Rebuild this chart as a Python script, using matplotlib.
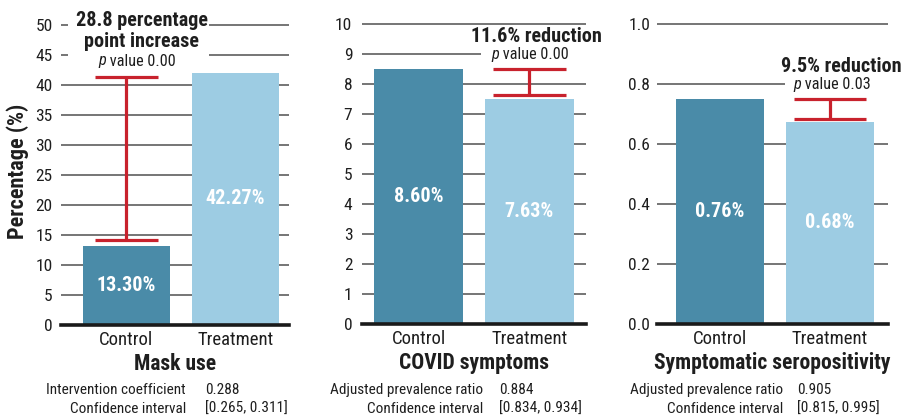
import matplotlib
matplotlib.use("Agg")
import matplotlib.pyplot as plt
from matplotlib.patches import Rectangle
from matplotlib import font_manager

available = {f.name for f in font_manager.fontManager.ttflist}
prefs = ['Roboto Condensed', 'Liberation Sans Narrow', 'Open Sans Condensed', 'Roboto',
         'Liberation Sans', 'DejaVu Sans']
fams = [f for f in prefs if f in available] + ['DejaVu Sans']
plt.rcParams['font.family'] = fams

# ---------------- data ----------------
categories = ['Control', 'Treatment']

mask_values = [13.2, 42.0]
mask_labels = ['13.30%', '42.27%']
mask_ci = [14.1, 41.3]          # red bracket (low, high), drawn over Control
mask_ticks = [0, 5, 10, 15, 20, 25, 30, 35, 40, 45, 50]

covid_values = [8.5, 7.5]
covid_labels = ['8.60%', '7.63%']
covid_ci = [7.65, 8.5]          # drawn over Treatment
covid_ticks = [0, 1, 2, 3, 4, 5, 6, 7, 8, 9, 10]

sero_values = [0.75, 0.675]
sero_labels = ['0.76%', '0.68%']
sero_ci = [0.683, 0.749]        # drawn over Treatment
sero_ticks = [0.0, 0.2, 0.4, 0.6, 0.8, 1.0]

titles = ['Mask use', 'COVID symptoms', 'Symptomatic seropositivity']
headlines = ['28.8 percentage\npoint increase', '11.6% reduction', '9.5% reduction']
pvalues = ['0.00', '0.00', '0.03']
stat_names = ['Intervention coefficient', 'Adjusted prevalence ratio', 'Adjusted prevalence ratio']
stat_values = ['0.288', '0.884', '0.905']
ci_texts = ['[0.265, 0.311]', '[0.834, 0.934]', '[0.815, 0.995]']

# ---------------- style ----------------
C_CTRL = '#4A8BA8'
C_TREAT = '#9DCCE3'
C_RED = '#C8222D'
C_GRID = '#505050'
C_TEXT = '#1e1e1e'

W, H = 905, 417
fig = plt.figure(figsize=(W / 100, H / 100), dpi=100)

def fx(px):
    return px / W

def fy(py):
    return 1 - py / H

def make_axes(left_px, right_px, top_px, bottom_px, ymax, pad_frac):
    height = (bottom_px - top_px) * (1 + pad_frac)
    ax = fig.add_axes([fx(left_px), fy(bottom_px), fx(right_px - left_px), height / H])
    ax.set_ylim(0, ymax * (1 + pad_frac))
    return ax

panels = [
    dict(vals=mask_values, labels=mask_labels, ci=mask_ci, ci_pos=0, ticks=mask_ticks,
         ymax=50, box=(61, 289, 25, 325), xlim=(-0.6, 1.49), cap=0.29, tickfmt='{:g}',
         tickpad=6),
    dict(vals=covid_values, labels=covid_labels, ci=covid_ci, ci_pos=1, ticks=covid_ticks,
         ymax=10, box=(362, 586, 24, 324), xlim=(-0.51, 1.51), cap=0.33, tickfmt='{:g}',
         tickpad=7),
    dict(vals=sero_values, labels=sero_labels, ci=sero_ci, ci_pos=1, ticks=sero_ticks,
         ymax=1.0, box=(657, 888, 24, 324), xlim=(-0.573, 1.527), cap=0.33, tickfmt='{:.1f}',
         tickpad=5),
]

FS_TICK = 12.5
FS_XT = 13.5
FS_VAL = 14.5
FS_TITLE = 15.5
FS_HEAD = 14.5
FS_P = 11.7
FS_FOOT = 11
FS_YLAB = 16

axes = []
for i, p in enumerate(panels):
    l, r, t, b = p['box']
    ax = make_axes(l, r, t, b, p['ymax'], 0.006)
    axes.append(ax)
    x = list(range(len(categories)))
    ax.bar(x, p['vals'], width=0.8, color=[C_CTRL, C_TREAT], zorder=2)
    ax.set_xlim(*p['xlim'])
    ax.set_yticks(p['ticks'])
    ax.set_yticklabels([p['tickfmt'].format(v) for v in p['ticks']])
    ax.set_xticks(x)
    ax.set_xticklabels(categories)
    ax.tick_params(axis='y', length=0, pad=p['tickpad'], labelsize=FS_TICK, labelcolor=C_TEXT)
    ax.tick_params(axis='x', length=0, pad=4, labelsize=FS_XT, labelcolor=C_TEXT)
    for s in ax.spines.values():
        s.set_visible(False)
    ax.yaxis.grid(True, color=C_GRID, lw=1.1, zorder=0)
    ax.set_axisbelow(True)
    ax.axhline(0, color='#1a1a1a', lw=2.6, zorder=3, clip_on=False)
    for xi, v, lab in zip(x, p['vals'], p['labels']):
        ax.text(xi, v / 2, lab, color='white', fontsize=FS_VAL, fontweight='bold',
                ha='center', va='center', zorder=4)
    cx = p['ci_pos']
    lo, hi = p['ci']
    ax.vlines(cx, lo, hi, color=C_RED, lw=2.3, zorder=6)
    ax.hlines([lo, hi], cx - p['cap'], cx + p['cap'], color=C_RED, lw=2.3, zorder=6)
    ax.text(0.5, -0.128, titles[i], transform=ax.transAxes, ha='center', va='center',
            fontsize=FS_TITLE, fontweight='bold', color=C_TEXT)


def pvalue_text(ax, xr, y, val):
    # italic "p" (right edge at xr) followed by " value x.xx"
    tp = ax.text(xr, y, 'p', fontstyle='italic', ha='right', va='center',
                 fontsize=FS_P, color=C_TEXT, zorder=5)
    ax.annotate(' value ' + val, xy=(1, 0.5), xycoords=tp, ha='left', va='center',
                fontsize=FS_P, color=C_TEXT, zorder=5)


ax1, ax2, ax3 = axes
ax1.add_patch(Rectangle((-0.54, 43.6), 1.3, 8.0, facecolor='white', edgecolor='none',
                        zorder=1, clip_on=False))
ax1.text(0.14, 49.0, headlines[0], ha='center', va='center', fontsize=FS_HEAD,
         fontweight='bold', color=C_TEXT, linespacing=1.1, zorder=5)
pvalue_text(ax1, -0.19, 44.0, pvalues[0])

ax2.add_patch(Rectangle((0.56, 8.7), 1.2, 0.6, facecolor='white', edgecolor='none',
                        zorder=1, clip_on=False))
ax2.text(1.063, 9.6, headlines[1], ha='center', va='center', fontsize=FS_HEAD,
         fontweight='bold', color=C_TEXT, zorder=5)
pvalue_text(ax2, 0.725, 9.0, pvalues[1])

ax3.add_patch(Rectangle((0.59, 0.77), 1.2, 0.06, facecolor='white', edgecolor='none',
                        zorder=1, clip_on=False))
ax3.text(1.1, 0.857, headlines[2], ha='center', va='center', fontsize=FS_HEAD,
         fontweight='bold', color=C_TEXT, zorder=5)
pvalue_text(ax3, 0.736, 0.80, pvalues[2])

fig.text(fx(18), fy(171), 'Percentage (%)', rotation=90, ha='center', va='center',
         fontsize=FS_YLAB, fontweight='bold', color=C_TEXT)

foot_cols = [(186, 205), (483, 499), (783, 797)]
for (lx, vx), name, val, ci in zip(foot_cols, stat_names, stat_values, ci_texts):
    fig.text(fx(lx), fy(390), name, ha='right', va='center', fontsize=FS_FOOT, color=C_TEXT)
    fig.text(fx(vx), fy(390), val, ha='left', va='center', fontsize=FS_FOOT, color=C_TEXT)
    fig.text(fx(lx), fy(409), 'Confidence interval', ha='right', va='center',
             fontsize=FS_FOOT, color=C_TEXT)
    fig.text(fx(vx), fy(409), ci, ha='left', va='center', fontsize=FS_FOOT, color=C_TEXT)

fig.savefig('out.png', dpi=100, facecolor='white')
